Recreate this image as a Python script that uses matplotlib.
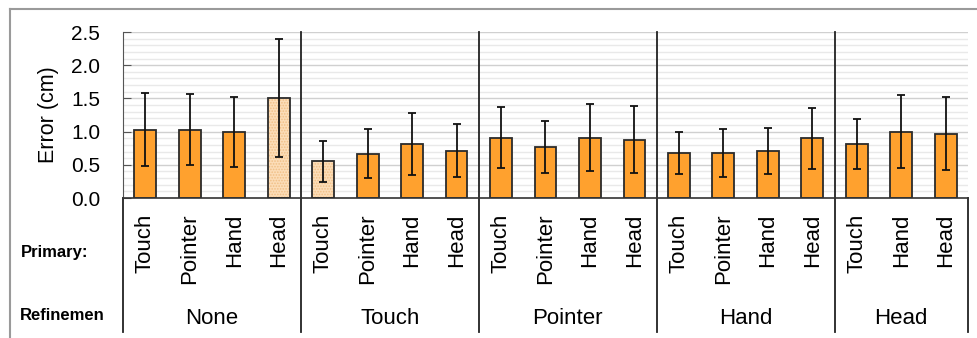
import matplotlib
matplotlib.use("Agg")
import matplotlib.pyplot as plt
from matplotlib.lines import Line2D
import numpy as np

plt.rcParams['font.family'] = ['Liberation Sans', 'DejaVu Sans']
plt.rcParams['hatch.linewidth'] = 0.8

# Refinement technique groups and the primary technique within each group
refinement = ["None", "Touch", "Pointer", "Hand", "Head"]
primary = [
    ["Touch", "Pointer", "Hand", "Head"],
    ["Touch", "Pointer", "Hand", "Head"],
    ["Touch", "Pointer", "Hand", "Head"],
    ["Touch", "Pointer", "Hand", "Head"],
    ["Touch", "Hand", "Head"],
]
# Mean error (cm) and standard deviation per bar
mean_err = [
    [1.03, 1.03, 0.99, 1.51],
    [0.55, 0.67, 0.81, 0.71],
    [0.91, 0.77, 0.91, 0.88],
    [0.68, 0.68, 0.71, 0.90],
    [0.81, 1.00, 0.97],
]
sd_err = [
    [0.55, 0.54, 0.53, 0.89],
    [0.31, 0.37, 0.47, 0.40],
    [0.46, 0.39, 0.50, 0.50],
    [0.32, 0.36, 0.35, 0.46],
    [0.38, 0.55, 0.55],
]
# Conditions drawn with the pale dotted fill
pale = [
    [False, False, False, True],
    [True, False, False, False],
    [False, False, False, False],
    [False, False, False, False],
    [False, False, False],
]

W, H = 978, 338
fig = plt.figure(figsize=(W / 100, H / 100), dpi=100)
ax = fig.add_axes([123 / W, (H - 198) / H, (968 - 123) / W, (198 - 32) / H])

orange = "#FFA12E"
peach = "#FCDDB8"
edge = "#2b2b2b"

xs, vals, sds, pales, labels = [], [], [], [], []
pos = 0
bounds = []
for g, names in enumerate(primary):
    start = pos
    for i, name in enumerate(names):
        xs.append(pos)
        vals.append(mean_err[g][i])
        sds.append(sd_err[g][i])
        pales.append(pale[g][i])
        labels.append(name)
        pos += 1
    bounds.append((start, pos - 1))

xs = np.array(xs)
vals = np.array(vals)
sds = np.array(sds)
pales = np.array(pales)

# grid
ax.set_ylim(0, 2.5)
ax.set_xlim(-0.5, len(xs) - 0.5)
for y in np.arange(0.1, 2.5001, 0.1):
    major = abs(y / 0.5 - round(y / 0.5)) < 1e-6
    ax.axhline(y, color="#d0d0d0" if major else "#e9e9e9",
               lw=1.0, zorder=0)

bw = 0.49
solid = ~pales
ax.bar(xs[solid], vals[solid], width=bw, color=orange, edgecolor=edge,
       linewidth=1.3, zorder=2)
ax.bar(xs[pales], vals[pales], width=bw, color=peach, edgecolor="#f0bf86",
       hatch="......", linewidth=0, zorder=2)
ax.bar(xs[pales], vals[pales], width=bw, facecolor="none", edgecolor=edge,
       linewidth=1.3, zorder=3)
ax.errorbar(xs, vals, yerr=sds, fmt="none", ecolor="#111111", elinewidth=1.3,
            capsize=3.0, capthick=1.3, zorder=4)

# axes styling
for s in ["top", "right"]:
    ax.spines[s].set_visible(False)
ax.spines["left"].set_color("#555555")
ax.spines["bottom"].set_color("#333333")
ax.spines["bottom"].set_linewidth(1.2)
ax.set_yticks(np.arange(0, 2.51, 0.5))
ax.set_yticklabels([f"{v:.1f}" for v in np.arange(0, 2.51, 0.5)], fontsize=15)
ax.tick_params(axis="y", direction="in", length=6, color="#555555", pad=16.5)
ax.set_xticks([])
ax.set_ylabel("Error (cm)", fontsize=15.5)
ax.yaxis.set_label_coords(-(123 - 59) / (968 - 123), 0.5)

trans = ax.get_xaxis_transform()
low = -(332 - 198) / (198 - 32)

# primary technique labels
for x, lab in zip(xs, labels):
    ax.text(x, -(214 - 198) / (198 - 32), lab, rotation=90, ha="center",
            va="top", fontsize=16, transform=trans)

# group separators and refinement labels
ax.plot([-0.5, -0.5], [0, low], color="#222222", lw=1.3,
        transform=trans, clip_on=False)
ax.plot([len(xs) - 0.5, len(xs) - 0.5], [0, low], color="#222222", lw=1.3,
        transform=trans, clip_on=False)
for g, (a, b) in enumerate(bounds):
    if g > 0:
        ax.plot([a - 0.5, a - 0.5], [1, low], color="#222222", lw=1.3,
                transform=trans, clip_on=False)
    ax.text((a + b) / 2, -(318 - 198) / (198 - 32), refinement[g],
            ha="center", va="center", fontsize=16, transform=trans)

fig.text(21 / W, (H - 253) / H, "Primary:", fontsize=12, fontweight="bold",
         ha="left", va="center")
fig.text(20 / W, (H - 316) / H, "Refinemen", fontsize=12, fontweight="bold",
         ha="left", va="center")

# outer frame
fig.add_artist(Line2D([9.5 / W, 1.0], [(H - 8.5) / H, (H - 8.5) / H],
                      color="#9a9a9a", lw=1.5, transform=fig.transFigure))
fig.add_artist(Line2D([9.5 / W, 9.5 / W], [0, (H - 8.5) / H],
                      color="#9a9a9a", lw=1.5, transform=fig.transFigure))

fig.savefig("out.png", dpi=100)
